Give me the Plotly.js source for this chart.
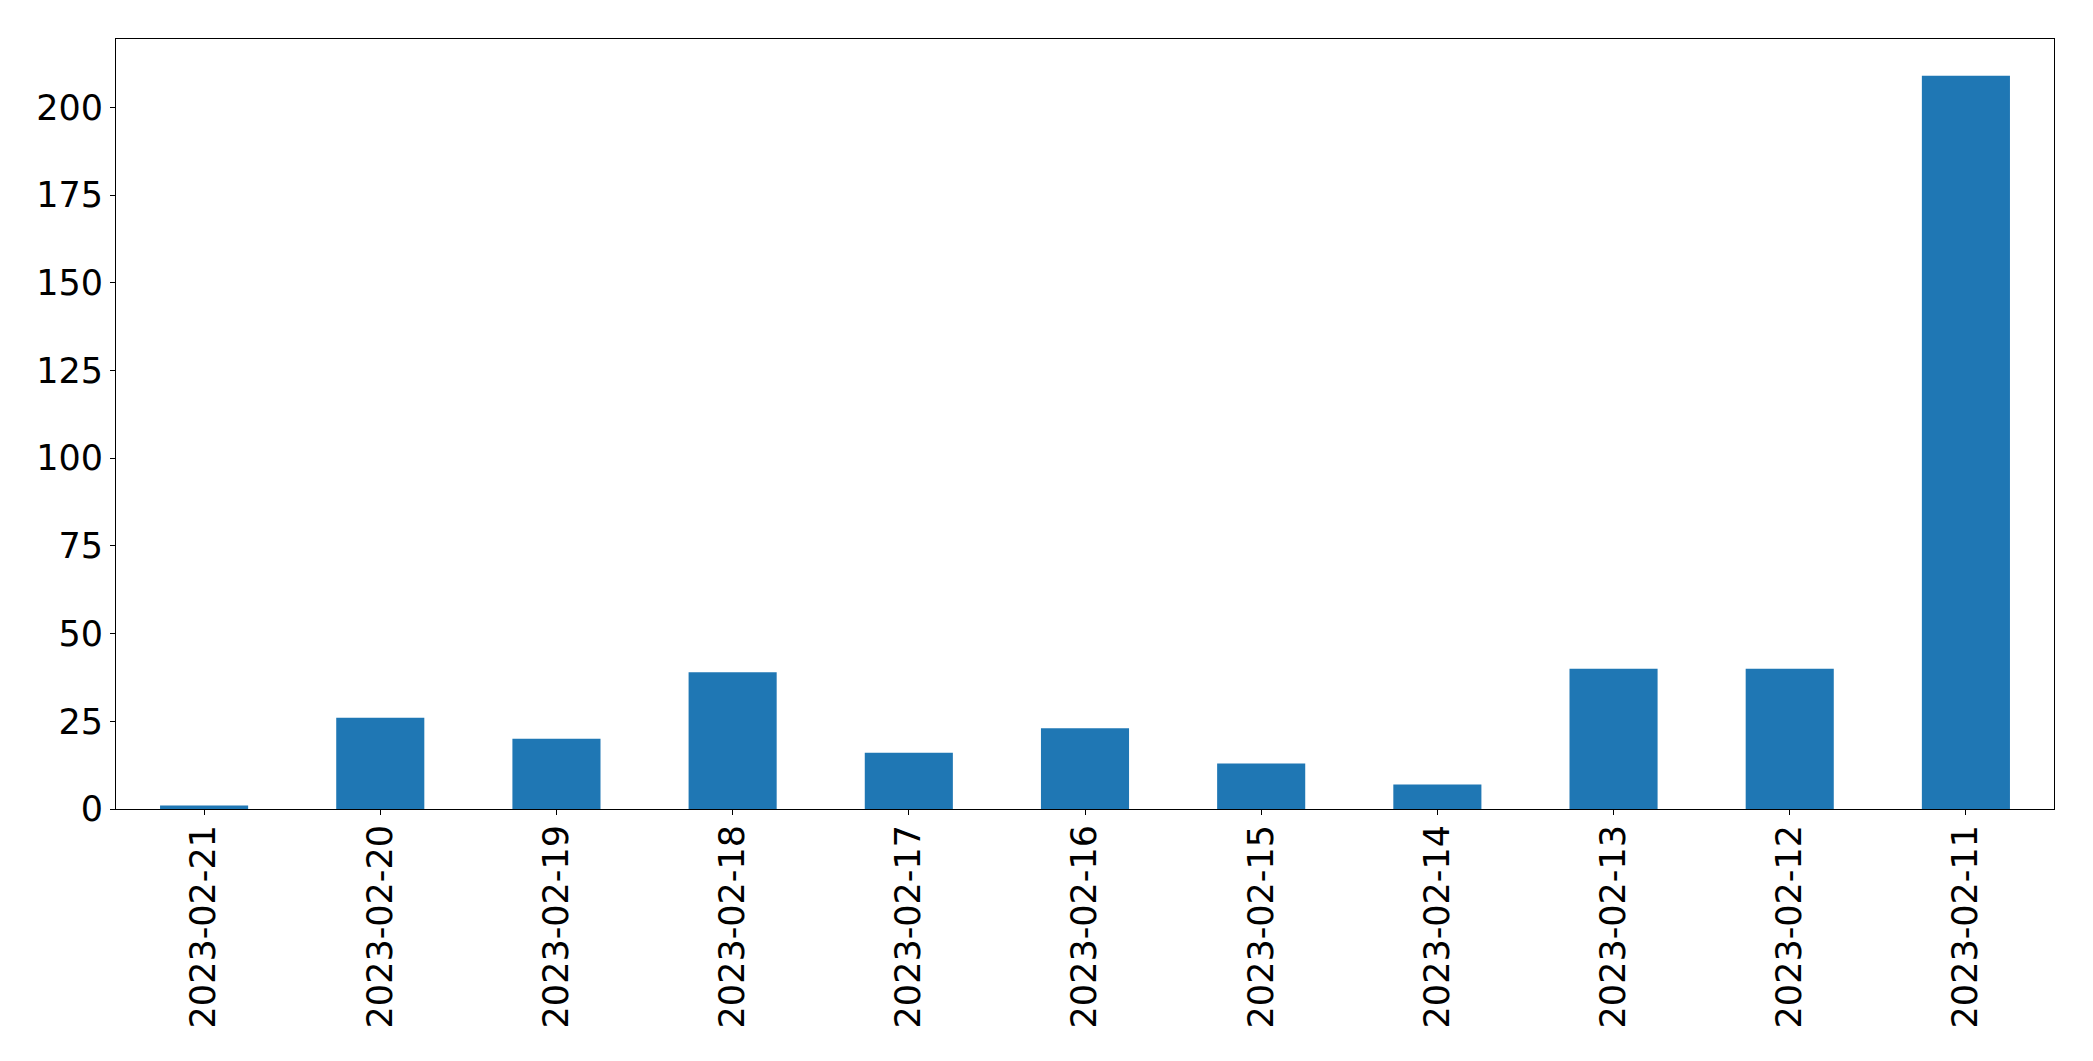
<!DOCTYPE html>
<html>
<head>
<meta charset="utf-8">
<script src="https://cdn.plot.ly/plotly-3.0.1.min.js"></script>
<style>html,body{margin:0;padding:0;background:#fff;}#chart{width:2093px;height:1061px;}</style>
</head>
<body>
<div id="chart"></div>
<script>
const dates = ["2023-02-21","2023-02-20","2023-02-19","2023-02-18","2023-02-17","2023-02-16","2023-02-15","2023-02-14","2023-02-13","2023-02-12","2023-02-11"];
const counts = [1, 26, 20, 39, 16, 23, 13, 7, 40, 40, 209];
const yTicks = [0, 25, 50, 75, 100, 125, 150, 175, 200];

const trace = {
  type: 'bar',
  x: dates,
  y: counts,
  width: 0.5,
  marker: {color: '#1f77b4', line: {width: 0}},
  hoverinfo: 'x+y'
};

const font = {family: 'DejaVu Sans, sans-serif', size: 35, color: '#000'};

const layout = {
  width: 2093,
  height: 1061,
  margin: {l: 116, r: 39, t: 39, b: 252, pad: 0},
  paper_bgcolor: '#fff',
  plot_bgcolor: '#fff',
  showlegend: false,
  bargap: 0.5,
  xaxis: {
    type: 'category',
    range: [-0.5, dates.length - 0.5],
    tickangle: -90,
    ticks: 'outside',
    ticklen: 5,
    tickwidth: 1,
    tickcolor: '#000',
    ticklabelstandoff: -4,
    showline: true,
    linecolor: '#000',
    linewidth: 1,
    mirror: true,
    showgrid: false,
    zeroline: false,
    tickfont: font,
    automargin: false
  },
  yaxis: {
    range: [0, 219.5],
    tickmode: 'array',
    tickvals: yTicks,
    ticktext: yTicks.map(String),
    ticks: 'outside',
    ticklen: 5,
    tickwidth: 1,
    tickcolor: '#000',
    showline: true,
    linecolor: '#000',
    linewidth: 1,
    mirror: true,
    showgrid: false,
    zeroline: false,
    tickfont: font,
    automargin: false
  }
};

Plotly.newPlot('chart', [trace], layout, {displayModeBar: false, staticPlot: true});
</script>
</body>
</html>
